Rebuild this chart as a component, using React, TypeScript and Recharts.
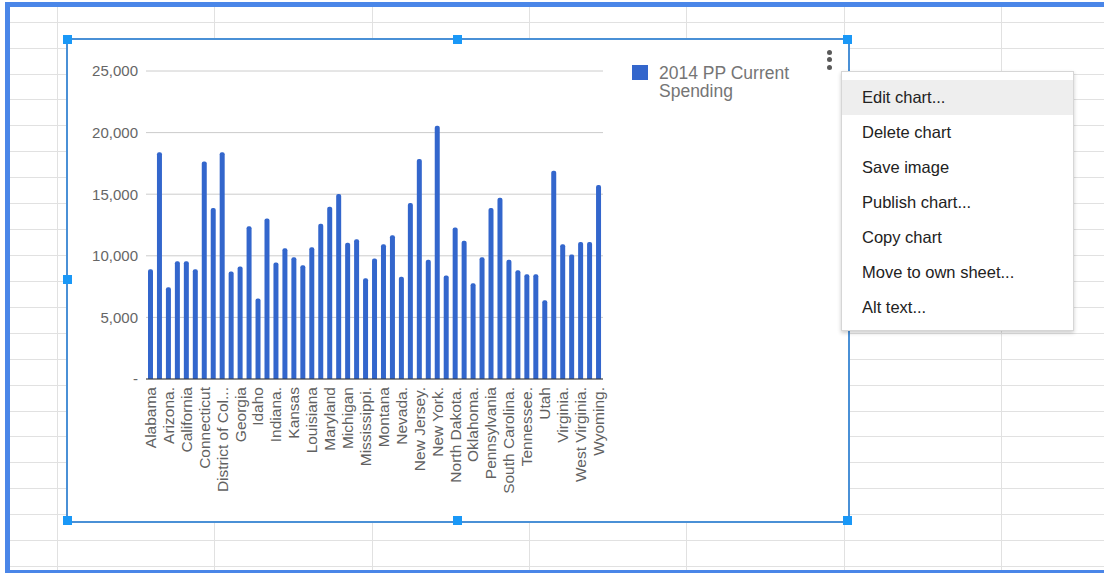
import { BarChart, Bar, XAxis, YAxis, CartesianGrid, Legend } from 'recharts';

const states = [
  'Alabama', 'Alaska', 'Arizona.', 'Arkansas', 'California', 'Colorado', 'Connecticut',
  'Delaware', 'District of Columbia', 'Florida', 'Georgia', 'Hawaii', 'Idaho', 'Illinois',
  'Indiana.', 'Iowa', 'Kansas', 'Kentucky', 'Louisiana', 'Maine', 'Maryland',
  'Massachusetts', 'Michigan', 'Minnesota', 'Mississippi.', 'Missouri', 'Montana',
  'Nebraska', 'Nevada.', 'New Hampshire', 'New Jersey.', 'New Mexico', 'New York.',
  'North Carolina', 'North Dakota.', 'Ohio', 'Oklahoma.', 'Oregon', 'Pennsylvania',
  'Rhode Island', 'South Carolina.', 'South Dakota', 'Tennessee.', 'Texas', 'Utah',
  'Vermont', 'Virginia.', 'Washington', 'West Virginia.', 'Wisconsin', 'Wyoming.',
];

const spending = [
  8900, 18400, 7450, 9550, 9550, 8900, 17650,
  13880, 18400, 8720, 9130, 12400, 6540, 13020,
  9450, 10610, 9880, 9240, 10690, 12610, 13990,
  15010, 11050, 11340, 8180, 9780, 10940,
  11670, 8290, 14290, 17850, 9670, 20550,
  8400, 12290, 11230, 7780, 9880, 13880,
  14720, 9670, 8830, 8510, 8510, 6400,
  16900, 10940, 10100, 11130, 11130, 15740,
];

const yTicks = [0, 5000, 10000, 15000, 20000, 25000];
const seriesName = '2014 PP Current Spending';

const data = states.map((name, i) => ({ name, value: spending[i] }));

const FONT = "'Liberation Sans', Arial, sans-serif";

const StateTick = ({ x, y, payload }: any) => {
  const raw: string = payload.value;
  const label = raw.length > 16 ? raw.slice(0, 15) + '...' : raw;
  return (
    <text
      x={x}
      y={y}
      transform={`rotate(-90 ${x} ${y})`}
      textAnchor="end"
      dy="0.35em"
      fill="#616161"
      fontSize={15.5}
      fontFamily={FONT}
    >
      {label}
    </text>
  );
};

const LegendBox = () => (
  <div style={{ display: 'flex', alignItems: 'flex-start', fontFamily: FONT }}>
    <div style={{ width: 16, height: 15, background: '#3366cc', marginTop: 1, flexShrink: 0 }} />
    <div style={{ marginLeft: 11, fontSize: 17.5, lineHeight: '18px', color: '#757575', width: 140 }}>
      {seriesName}
    </div>
  </div>
);

const rowLines = Array.from({ length: 22 }, (_, k) => 21.7 + k * 25.92);
const colLines = Array.from({ length: 7 }, (_, k) => 57 + k * 157.3);
const handles = [
  [67, 39], [457, 39], [847, 39], [67, 279], [847, 279], [67, 520], [457, 520], [847, 520],
];
const menuItems = [
  'Edit chart...', 'Delete chart', 'Save image', 'Publish chart...',
  'Copy chart', 'Move to own sheet...', 'Alt text...',
];

export default function App() {
  return (
    <div
      style={{
        position: 'absolute', left: 0, top: 0, width: 1104, height: 573,
        overflow: 'hidden', background: '#fff', fontFamily: FONT,
      }}
    >
      {/* spreadsheet grid */}
      {rowLines.map((y) => (
        <div key={'r' + y} style={{ position: 'absolute', left: 10, top: Math.round(y), width: 1094, height: 1, background: '#e1e1e1' }} />
      ))}
      {colLines.map((x) => (
        <div key={'c' + x} style={{ position: 'absolute', left: Math.round(x), top: 7, width: 1, height: 566, background: '#e1e1e1' }} />
      ))}
      {/* selection border */}
      <div style={{ position: 'absolute', left: 5, top: 2, width: 1099, height: 5, background: '#4a86e8' }} />
      <div style={{ position: 'absolute', left: 5, top: 2, width: 5, height: 571, background: '#4a86e8' }} />
      <div style={{ position: 'absolute', left: 5, top: 570, width: 1099, height: 3, background: '#4a86e8' }} />

      {/* chart box */}
      <div
        style={{
          position: 'absolute', left: 66, top: 38, width: 780, height: 481,
          background: '#fff', border: '2px solid #4a90d6',
        }}
      />
      <div style={{ position: 'absolute', left: 68, top: 40 }}>
        <BarChart
          width={779}
          height={480}
          data={data}
          margin={{ top: 31, right: 244, left: 0, bottom: 0 }}
        >
          <CartesianGrid vertical={false} stroke="#cccccc" />
          <XAxis
            dataKey="name"
            interval={1}
            height={141}
            tick={<StateTick />}
            tickLine={false}
            axisLine={{ stroke: '#333333' }}
          />
          <YAxis
            width={78}
            domain={[0, 25000]}
            ticks={yTicks}
            tickLine={false}
            axisLine={false}
            tickFormatter={(v: number) => (v === 0 ? '-' : v.toLocaleString('en-US'))}
            tick={{ fill: '#666666', fontSize: 15, fontFamily: FONT }}
          />
          <Legend
            layout="vertical"
            align="center"
            verticalAlign="middle"
            content={() => <LegendBox />}
            wrapperStyle={{ left: 564, top: 24, width: 180, height: 40 }}
          />
          <Bar
            dataKey="value"
            name={seriesName}
            fill="#3366cc"
            barSize={5}
            radius={[2, 2, 0, 0]}
            isAnimationActive={false}
          />
        </BarChart>
      </div>

      {handles.map(([x, y]) => (
        <div key={x + '-' + y} style={{ position: 'absolute', left: x - 4, top: y - 4, width: 9, height: 9, background: '#1a98f7' }} />
      ))}

      {/* kebab icon */}
      {[52, 59.5, 67].map((y) => (
        <div key={'d' + y} style={{ position: 'absolute', left: 826.5, top: y - 2.5, width: 5, height: 5, borderRadius: 3, background: '#5a5a5a' }} />
      ))}

      {/* context menu */}
      <div
        style={{
          position: 'absolute', left: 841, top: 71, width: 233, height: 260,
          background: '#fff', border: '1px solid #d6d6d6',
          boxShadow: '0 2px 4px rgba(0,0,0,0.2)', paddingTop: 8, boxSizing: 'border-box',
        }}
      >
        {menuItems.map((item, i) => (
          <div
            key={item}
            style={{
              height: 35, lineHeight: '35px', paddingLeft: 20, fontSize: 16.5,
              color: '#222', background: i === 0 ? '#eeeeee' : 'transparent',
            }}
          >
            {item}
          </div>
        ))}
      </div>
    </div>
  );
}
